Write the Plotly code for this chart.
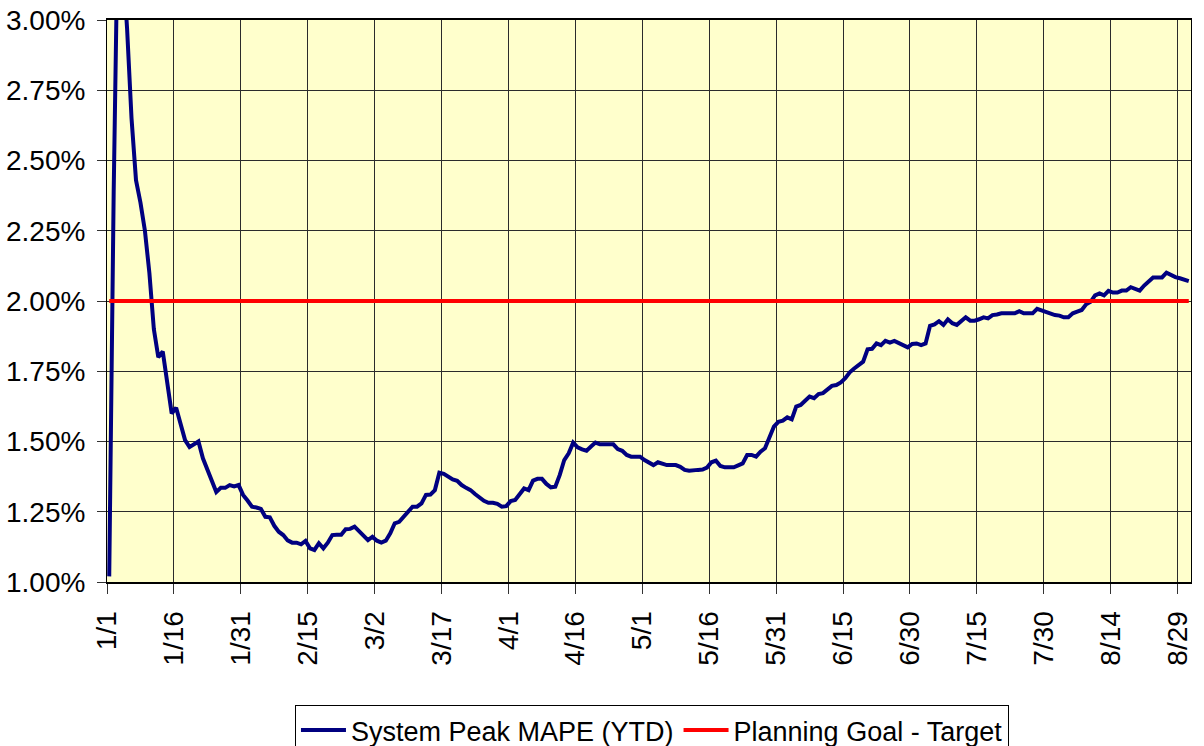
import pandas as pd
import plotly.graph_objects as go

# Daily year-to-date system peak MAPE (%), starting 1/1
peak_mape = [
    1.02, 2.39, 3.42, 3.22, 2.97, 2.65, 2.43, 2.35, 2.25, 2.10,
    1.90, 1.80, 1.82, 1.70, 1.60, 1.62, 1.56, 1.505, 1.48, 1.49,
    1.50, 1.44, 1.40, 1.36, 1.32, 1.335, 1.335, 1.345, 1.34, 1.345,
    1.31, 1.29, 1.268, 1.265, 1.26, 1.232, 1.23, 1.20, 1.179, 1.167,
    1.148, 1.14, 1.14, 1.134, 1.146, 1.12, 1.114, 1.138, 1.12, 1.14,
    1.167, 1.168, 1.168, 1.188, 1.189, 1.197, 1.18, 1.165, 1.149, 1.161,
    1.147, 1.14, 1.147, 1.173, 1.209, 1.214, 1.232, 1.25, 1.268, 1.268,
    1.28, 1.31, 1.311, 1.327, 1.389, 1.385, 1.373, 1.365, 1.36, 1.345,
    1.335, 1.327, 1.313, 1.30, 1.289, 1.282, 1.282, 1.278, 1.268, 1.27,
    1.288, 1.292, 1.31, 1.333, 1.327, 1.361, 1.367, 1.367, 1.349, 1.337,
    1.339, 1.381, 1.434, 1.458, 1.496, 1.479, 1.472, 1.467, 1.482, 1.496,
    1.49, 1.49, 1.49, 1.49, 1.473, 1.467, 1.452, 1.446, 1.446, 1.446,
    1.434, 1.425, 1.416, 1.426, 1.422, 1.416, 1.416, 1.416, 1.41, 1.399,
    1.396, 1.399, 1.399, 1.40, 1.407, 1.426, 1.432, 1.413, 1.408, 1.408,
    1.408, 1.415, 1.422, 1.452, 1.452, 1.446, 1.464, 1.476, 1.511, 1.553,
    1.57, 1.574, 1.586, 1.579, 1.624, 1.63, 1.645, 1.66, 1.654, 1.669,
    1.672, 1.685, 1.698, 1.701, 1.71, 1.725, 1.746, 1.76, 1.77, 1.784,
    1.828, 1.83, 1.849, 1.843, 1.858, 1.852, 1.858, 1.849, 1.84, 1.835,
    1.847, 1.849, 1.843, 1.849, 1.912, 1.917, 1.928, 1.915, 1.935, 1.921,
    1.915, 1.93, 1.942, 1.93, 1.93, 1.935, 1.942, 1.938, 1.95, 1.952,
    1.956, 1.956, 1.956, 1.956, 1.964, 1.956, 1.956, 1.956, 1.972, 1.966,
    1.96, 1.955, 1.95, 1.948, 1.942, 1.942, 1.956, 1.962, 1.968, 1.988,
    1.997, 2.02, 2.027, 2.02, 2.036, 2.03, 2.03, 2.037, 2.037, 2.049,
    2.042, 2.037, 2.055, 2.072, 2.084, 2.084, 2.084, 2.101, 2.091, 2.085,
    2.081, 2.077, 2.071,
]

start_date = "2007-01-01"
planning_goal = 2.00
target = [planning_goal] * len(peak_mape)

series_names = ["System Peak MAPE (YTD)", "Planning Goal - Target"]

# each daily value sits in the middle of its day slot
dates = pd.date_range(start_date, periods=len(peak_mape), freq="D") + pd.Timedelta(hours=12)

FONT = "Liberation Sans, Arial, sans-serif"

fig = go.Figure()
fig.add_trace(go.Scatter(
    x=dates, y=peak_mape, mode="lines", name=series_names[0],
    line=dict(color="#000080", width=4),
))
fig.add_trace(go.Scatter(
    x=dates, y=target, mode="lines", name=series_names[1],
    line=dict(color="#FF0000", width=4),
))

fig.update_layout(
    width=1204, height=746,
    margin=dict(l=107, r=13, t=20, b=164, autoexpand=False),
    paper_bgcolor="white",
    plot_bgcolor="#FFFFCC",
    font=dict(family=FONT, size=27, color="black"),
    showlegend=True,
    legend=dict(
        orientation="h",
        xref="container", yref="container",
        x=0.5415, xanchor="center",
        y=(746 - 705) / 746, yanchor="top",
        bordercolor="black", borderwidth=1,
        bgcolor="white",
        font=dict(family=FONT, size=27, color="black"),
        itemwidth=45,
    ),
)

fig.update_xaxes(
    type="date",
    range=["2007-01-01", "2007-09-01"],
    tick0="2007-01-01",
    dtick=15 * 86400000,
    tickformat="%-m/%-d",
    tickangle=-90,
    automargin=False,
    ticks="outside", ticklen=10, tickcolor="#333333", tickwidth=1,
    ticklabelstandoff=6,
    showgrid=True, gridcolor="#2b2b2b", gridwidth=1,
    showline=True, linecolor="black", linewidth=2, mirror=True,
    zeroline=False,
    tickfont=dict(family=FONT, size=28, color="black"),
)
fig.update_yaxes(
    range=[1.0, 3.0],
    tick0=1.0, dtick=0.25,
    tickformat=".2f", ticksuffix="%",
    automargin=False,
    ticks="outside", ticklen=9, tickcolor="#333333", tickwidth=1,
    ticklabelstandoff=6,
    showgrid=True, gridcolor="#2b2b2b", gridwidth=1,
    showline=True, linecolor="black", linewidth=1, mirror=True,
    zeroline=False,
    tickfont=dict(family=FONT, size=28, color="black"),
)

fig.write_html("out.html")
